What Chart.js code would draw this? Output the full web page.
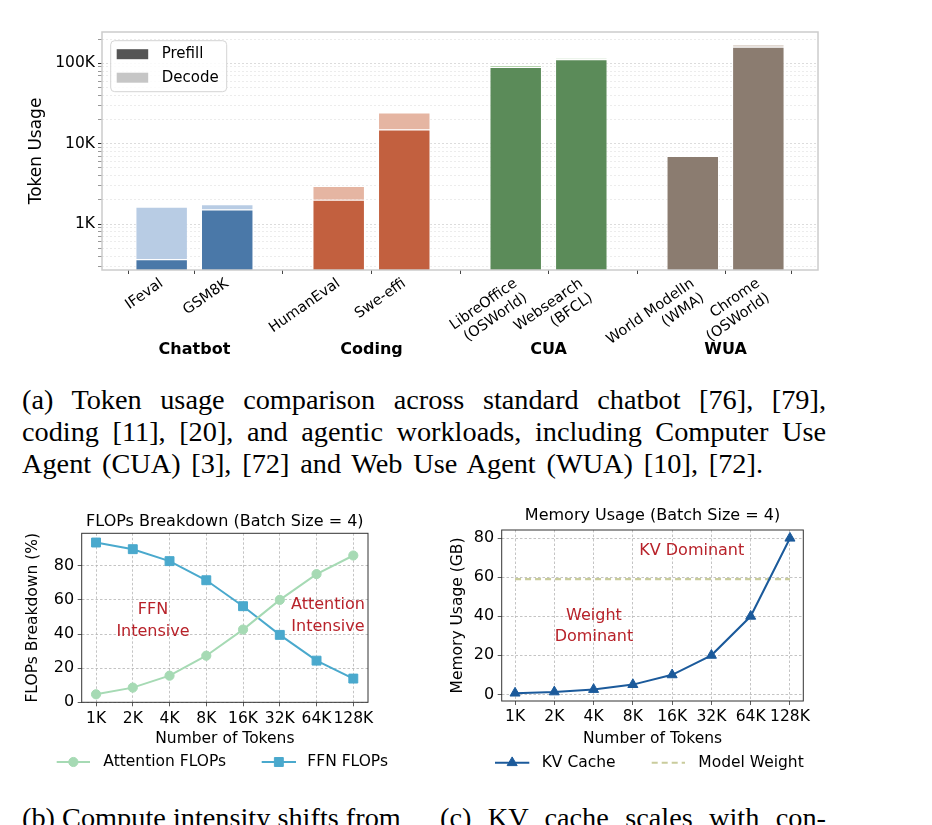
<!DOCTYPE html>
<html>
<head>
<meta charset="utf-8">
<script src="https://cdn.jsdelivr.net/npm/chart.js@4.4.1/dist/chart.umd.min.js"></script>
<style>
html,body{margin:0;padding:0;background:#fff;}
body{width:932px;height:825px;overflow:hidden;position:relative;}
canvas{position:absolute;display:block;}
.cap{position:absolute;font-family:"Liberation Serif","Times New Roman",serif;font-size:28.3px;line-height:32px;color:#000;}
.jl{text-align:justify;text-align-last:justify;}
</style>
</head>
<body>
<canvas id="top" width="932" height="370" style="left:0;top:0;width:932px;height:370px"></canvas>
<div class="cap" style="left:22px;top:384px;width:804px">
  <div class="jl">(a) Token usage comparison across standard chatbot [76], [79],</div>
  <div class="jl">coding [11], [20], and agentic workloads, including Computer Use</div>
  <div class="jl" style="width:741px">Agent (CUA) [3], [72] and Web Use Agent (WUA) [10], [72].</div>
</div>
<canvas id="flops" width="430" height="290" style="left:0;top:500px;width:430px;height:290px"></canvas>
<canvas id="mem" width="502" height="290" style="left:430px;top:500px;width:502px;height:290px"></canvas>
<div class="cap" style="left:22px;top:802px;width:400px">(b) Compute intensity shifts from</div>
<div class="cap jl" style="left:440px;top:802px;width:386px">(c) KV cache scales with con-</div>
<script>
// ---------------- data ----------------
const groups = ['Chatbot', 'Coding', 'CUA', 'WUA'];
const benchmarks = [['IFeval'], ['GSM8K'], ['HumanEval'], ['Swe-effi'],
  ['LibreOffice', '(OSWorld)'], ['Websearch', '(BFCL)'], ['World ModelIn', '(WMA)'], ['Chrome', '(OSWorld)']];
const benchmarkGroup = [0, 0, 1, 1, 2, 2, 3, 3];
const prefillTokens = [365, 1520, 2000, 15000, 90000, 112000, 7000, 160000];
const decodeTokens = [1275, 240, 970, 9500, 5500, 4500, 80, 13000];
const tokenTickValues = [1000, 10000, 100000];
const tokenTickLabels = ['1K', '10K', '100K'];

const contextLabels = ['1K', '2K', '4K', '8K', '16K', '32K', '64K', '128K'];
const attentionFlops = [4.7, 8.6, 15.6, 27.3, 42.6, 60.0, 75.1, 86.0];
const ffnFlops = [93.6, 89.7, 82.7, 71.5, 56.3, 39.5, 24.4, 13.9];
const flopsTicks = [0, 20, 40, 60, 80];

const kvCacheGB = [0.625, 1.25, 2.5, 5, 10, 20, 40, 80];
const modelWeightGB = [59, 59, 59, 59, 59, 59, 59, 59];
const memTicks = [0, 20, 40, 60, 80];

// ---------------- styles ----------------
const SANS = '"DejaVu Sans", Verdana, sans-serif';
const groupDark = ['#4a78a8', '#c2603f', '#5b8b59', '#8b7c70'];
const groupLight = ['#b8cce4', '#e5b5a2', '#b5d4ae', '#d7cbc2'];
const GROUP_STRIDE = 2.7;
const RED = '#b8222a';

Chart.defaults.font.family = SANS;
Chart.defaults.color = '#000';

// bar positions derived from the group structure
const barX = benchmarks.map((_, i) => {
  const g = benchmarkGroup[i];
  const within = benchmarkGroup.slice(0, i).filter(v => v === g).length;
  return g * GROUP_STRIDE + within;
});

function framePlugin(color, width) {
  return {
    id: 'frame',
    afterDatasetsDraw(chart) {
      const a = chart.chartArea, ctx = chart.ctx;
      ctx.save();
      ctx.strokeStyle = color; ctx.lineWidth = width;
      ctx.strokeRect(a.left, a.top, a.right - a.left, a.bottom - a.top);
      ctx.restore();
    }
  };
}

// ---------------- top: token usage ----------------
const topPlugins = [
  framePlugin('#cccccc', 1.5),
  {
    id: 'groupLabels',
    afterDraw(chart) {
      const ctx = chart.ctx, xs = chart.scales.x;
      ctx.save();
      ctx.font = 'bold 16px ' + SANS;
      ctx.fillStyle = '#000'; ctx.textAlign = 'center'; ctx.textBaseline = 'middle';
      groups.forEach((name, g) => {
        const px = barX.filter((_, i) => benchmarkGroup[i] === g).map(v => xs.getPixelForValue(v));
        const mid = px.reduce((a, b) => a + b, 0) / px.length;
        ctx.fillText(name, mid, 350);
      });
      ctx.restore();
    }
  },
  {
    id: 'boxLegend',
    afterDraw(chart) {
      const ctx = chart.ctx, a = chart.chartArea;
      const x0 = a.left + 8.7, y0 = a.top + 8.7, w = 116, h = 51;
      ctx.save();
      ctx.fillStyle = 'rgba(255,255,255,0.85)';
      ctx.strokeStyle = '#d4d4d4'; ctx.lineWidth = 1;
      ctx.beginPath();
      if (ctx.roundRect) ctx.roundRect(x0, y0, w, h, 4); else ctx.rect(x0, y0, w, h);
      ctx.fill(); ctx.stroke();
      const items = [['Prefill', '#555555'], ['Decode', '#c6c6c6']];
      ctx.font = '15px ' + SANS; ctx.textBaseline = 'middle'; ctx.textAlign = 'left';
      items.forEach(([t, c], k) => {
        const cy = y0 + 13.5 + k * 23.5;
        ctx.fillStyle = c;
        ctx.fillRect(x0 + 6, cy - 5, 31.5, 10);
        ctx.fillStyle = '#000';
        ctx.fillText(t, x0 + 51, cy);
      });
      ctx.restore();
    }
  }
];

new Chart(document.getElementById('top'), {
  type: 'bar',
  data: {
    datasets: [
      {
        label: 'Prefill',
        data: prefillTokens.map((v, i) => ({ x: barX[i], y: v })),
        backgroundColor: benchmarkGroup.map(g => groupDark[g]),
        borderColor: 'rgba(255,255,255,0.85)', borderWidth: 1,
        stack: 'tok', categoryPercentage: 0.8, barPercentage: 1.0
      },
      {
        label: 'Decode',
        data: decodeTokens.map((v, i) => ({ x: barX[i], y: v })),
        backgroundColor: benchmarkGroup.map(g => groupLight[g]),
        borderColor: 'rgba(255,255,255,0.85)', borderWidth: 1,
        stack: 'tok', categoryPercentage: 0.8, barPercentage: 1.0
      }
    ]
  },
  options: {
    responsive: false, animation: false, devicePixelRatio: 1,
    layout: { padding: { left: 22.5, top: 32, right: 114, bottom: 0 } },
    plugins: { legend: { display: false }, tooltip: { enabled: false } },
    scales: {
      x: {
        type: 'linear', stacked: true, min: -0.91, max: 10.01, offset: false,
        afterBuildTicks: s => { s.ticks = barX.map(v => ({ value: v })); },
        ticks: {
          autoSkip: false, minRotation: 35, maxRotation: 35, padding: 1,
          font: { size: 14.5 }, color: '#000',
          callback: (v, i) => benchmarks[i]
        },
        grid: { drawOnChartArea: false, drawTicks: true, tickLength: 4, color: '#444', lineWidth: 1 },
        border: { display: false },
        afterFit: s => { s.height = 100; }
      },
      y: {
        type: 'logarithmic', stacked: true, min: 268, max: 245000,
        afterBuildTicks: s => {
          const t = [];
          for (let e = 2; e <= 5; e++) for (let m = 1; m <= 9; m++) {
            const v = m * Math.pow(10, e);
            if (v >= s.min && v <= s.max) t.push({ value: v });
          }
          s.ticks = t;
        },
        ticks: {
          autoSkip: false, padding: 3, font: { size: 15.5 }, color: '#000',
          callback: v => { const k = tokenTickValues.indexOf(v); return k >= 0 ? tokenTickLabels[k] : ''; }
        },
        grid: {
          color: c => tokenTickValues.includes(c.tick && c.tick.value) ? '#dcdcdc' : '#ececec',
          tickColor: c => tokenTickValues.includes(c.tick && c.tick.value) ? '#333' : '#999',
          lineWidth: 1, tickLength: 4
        },
        border: { display: false, dash: [2, 2] },
        title: { display: true, text: 'Token Usage', font: { size: 17 }, color: '#000', padding: { top: 4, bottom: 4 } },
        afterFit: s => { s.width = 79.5; }
      }
    }
  },
  plugins: topPlugins
});

// ---------------- helpers for line charts ----------------
function titlePlugin(text, y) {
  return {
    id: 'ttl',
    afterDraw(chart) {
      const ctx = chart.ctx, a = chart.chartArea;
      ctx.save();
      ctx.font = '16px ' + SANS; ctx.fillStyle = '#000';
      ctx.textAlign = 'center'; ctx.textBaseline = 'middle';
      ctx.fillText(text, (a.left + a.right) / 2, y);
      ctx.restore();
    }
  };
}
function notesPlugin(notes) {
  return {
    id: 'notes',
    afterDraw(chart) {
      const ctx = chart.ctx, xs = chart.scales.x, ys = chart.scales.y;
      ctx.save();
      ctx.font = '16px ' + SANS; ctx.fillStyle = RED;
      ctx.textAlign = 'center'; ctx.textBaseline = 'middle';
      notes.forEach(n => {
        const cx = xs.getPixelForValue(n.x), cy = ys.getPixelForValue(n.y);
        const lh = 21.7, top = cy - (n.lines.length - 1) * lh / 2;
        n.lines.forEach((l, k) => ctx.fillText(l, cx, top + k * lh));
      });
      ctx.restore();
    }
  };
}
function drawMarker(ctx, style, x, y, r, color) {
  ctx.fillStyle = color; ctx.strokeStyle = color; ctx.lineWidth = 1;
  ctx.beginPath();
  if (style === 'circle') ctx.arc(x, y, r, 0, Math.PI * 2);
  else if (style === 'rect') { const s = r * Math.SQRT1_2; ctx.rect(x - s, y - s, 2 * s, 2 * s); }
  else if (style === 'triangle') {
    ctx.moveTo(x, y - r); ctx.lineTo(x + r * 0.866, y + r * 0.5); ctx.lineTo(x - r * 0.866, y + r * 0.5); ctx.closePath();
  }
  ctx.fill(); ctx.stroke();
}
function legendPlugin(items, y) {
  return {
    id: 'lineLegend',
    afterDraw(chart) {
      const ctx = chart.ctx;
      ctx.save();
      items.forEach(it => {
        ctx.strokeStyle = it.color; ctx.lineWidth = 2;
        ctx.setLineDash(it.dash || []);
        ctx.beginPath(); ctx.moveTo(it.x1, y); ctx.lineTo(it.x2, y); ctx.stroke();
        ctx.setLineDash([]);
        if (it.marker) drawMarker(ctx, it.marker, (it.x1 + it.x2) / 2, y, it.r, it.color);
        ctx.font = '15.5px ' + SANS; ctx.fillStyle = '#000';
        ctx.textAlign = 'left'; ctx.textBaseline = 'middle';
        ctx.fillText(it.text, it.tx, y);
      });
      ctx.restore();
    }
  };
}
function lineScales(xmin, xmax, ymin, ymax, yTicks, yTitle, yWidth, xHeight) {
  return {
    x: {
      type: 'linear', min: xmin, max: xmax,
      afterBuildTicks: s => { s.ticks = contextLabels.map((_, i) => ({ value: i })); },
      ticks: { autoSkip: false, maxRotation: 0, padding: 3, font: { size: 15.5 }, color: '#000', callback: (v, i) => contextLabels[i] },
      grid: { color: '#b5b5b5', lineWidth: 0.8, tickColor: '#333', tickLength: 4 },
      border: { display: false, dash: [2.5, 2] },
      title: { display: true, text: 'Number of Tokens', font: { size: 15.5 }, color: '#000', padding: { top: 4, bottom: 4 } },
      afterFit: s => { s.height = xHeight; }
    },
    y: {
      type: 'linear', min: ymin, max: ymax,
      afterBuildTicks: s => { s.ticks = yTicks.map(v => ({ value: v })); },
      ticks: { autoSkip: false, padding: 3.5, font: { size: 16 }, color: '#000' },
      grid: { color: '#b5b5b5', lineWidth: 0.8, tickColor: '#333', tickLength: 4 },
      border: { display: false, dash: [2.5, 2] },
      title: { display: true, text: yTitle, font: { size: 15.5 }, color: '#000', padding: { top: 4, bottom: 4 } },
      afterFit: s => { s.width = yWidth; }
    }
  };
}

// ---------------- (b) FLOPs breakdown ----------------
const ATT = '#a6dab4', FFN = '#4aa9cd';
new Chart(document.getElementById('flops'), {
  type: 'line',
  data: {
    datasets: [
      { label: 'Attention FLOPs', data: attentionFlops.map((v, i) => ({ x: i, y: v })),
        borderColor: ATT, backgroundColor: ATT, borderWidth: 2, pointStyle: 'circle', pointRadius: 4.6, pointBorderWidth: 1, tension: 0 },
      { label: 'FFN FLOPs', data: ffnFlops.map((v, i) => ({ x: i, y: v })),
        borderColor: FFN, backgroundColor: FFN, borderWidth: 2, pointStyle: 'rect', pointRadius: 6.3, pointBorderWidth: 1, tension: 0 }
    ]
  },
  options: {
    responsive: false, animation: false, devicePixelRatio: 1,
    layout: { padding: { left: 20, top: 33.3, right: 62, bottom: 37.4 } },
    plugins: { legend: { display: false }, tooltip: { enabled: false } },
    scales: lineScales(-0.39, 7.4, 0, 99, flopsTicks, 'FLOPs Breakdown (%)', 61.7, 50.3)
  },
  plugins: [
    framePlugin('#333', 1),
    titlePlugin('FLOPs Breakdown (Batch Size = 4)', 22),
    notesPlugin([{ x: 1.55, y: 47.8, lines: ['FFN', 'Intensive'] }, { x: 6.31, y: 50.7, lines: ['Attention', 'Intensive'] }]),
    legendPlugin([
      { x1: 56.7, x2: 90, tx: 103.3, color: ATT, marker: 'circle', r: 4.6, text: 'Attention FLOPs' },
      { x1: 261.7, x2: 296, tx: 307.3, color: FFN, marker: 'rect', r: 6.3, text: 'FFN FLOPs' }
    ], 262)
  ]
});

// ---------------- (c) Memory usage ----------------
const KV = '#1b5a9b', MW = '#c9cc9c';
new Chart(document.getElementById('mem'), {
  type: 'line',
  data: {
    datasets: [
      { label: 'KV Cache', data: kvCacheGB.map((v, i) => ({ x: i, y: v })),
        borderColor: KV, backgroundColor: KV, borderWidth: 2, pointStyle: 'triangle', pointRadius: 5.8, pointBorderWidth: 1, tension: 0 },
      { label: 'Model Weight', data: modelWeightGB.map((v, i) => ({ x: i, y: v })),
        borderColor: MW, backgroundColor: MW, borderWidth: 2.2, borderDash: [6, 4], pointRadius: 0, tension: 0 }
    ]
  },
  options: {
    responsive: false, animation: false, devicePixelRatio: 1,
    layout: { padding: { left: 14.4, top: 30, right: 128.7, bottom: 37.7 } },
    plugins: { legend: { display: false }, tooltip: { enabled: false } },
    scales: lineScales(-0.34, 7.34, -3.4, 84.2, memTicks, 'Memory Usage (GB)', 57.3, 51.3)
  },
  plugins: [
    framePlugin('#333', 1),
    titlePlugin('Memory Usage (Batch Size = 4)', 16),
    notesPlugin([{ x: 4.5, y: 73.5, lines: ['KV Dominant'] }, { x: 2.01, y: 34.9, lines: ['Weight', 'Dominant'] }]),
    legendPlugin([
      { x1: 65, x2: 99.3, tx: 111.7, color: KV, marker: 'triangle', r: 5.8, text: 'KV Cache' },
      { x1: 221.7, x2: 255, tx: 268.3, color: MW, dash: [6, 4], text: 'Model Weight' }
    ], 262.7)
  ]
});
</script>
</body>
</html>
